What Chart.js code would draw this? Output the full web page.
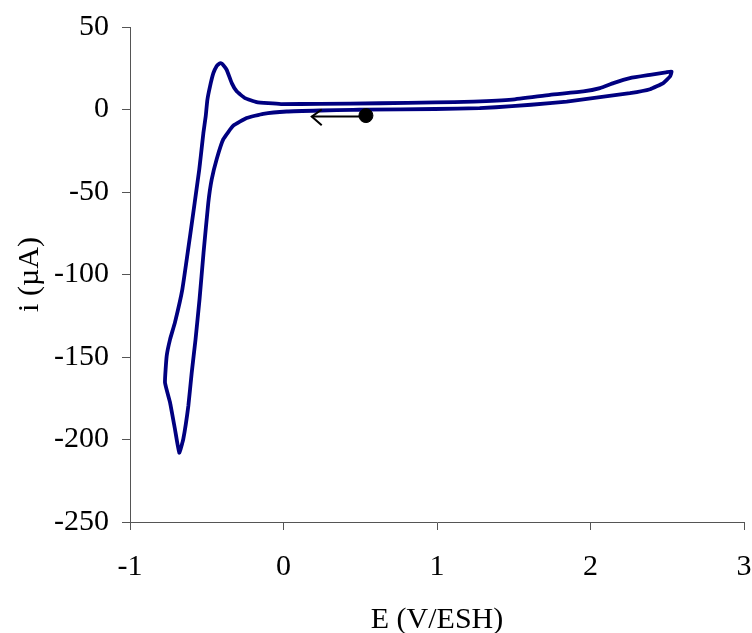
<!DOCTYPE html>
<html>
<head>
<meta charset="utf-8">
<script src="https://cdn.jsdelivr.net/npm/chart.js@4/dist/chart.umd.min.js"></script>
<style>
  html, body { margin: 0; padding: 0; background: #ffffff; }
  #wrap { width: 752px; height: 633px; position: relative; }
</style>
</head>
<body>
<div id="wrap"><canvas id="c" width="752" height="633"></canvas></div>
<script>
// Cyclic voltammogram: potential E (V/ESH) and current i (µA), in scan order
const potentialE = [
  0.537, 0.453, 0.238, 0.021, -0.132, -0.240, -0.327, -0.392, -0.435, -0.468, -0.490, -0.521,
  -0.547, -0.573, -0.598, -0.620, -0.653, -0.679, -0.707, -0.739, -0.772,
  -0.761, -0.739, -0.707, -0.659, -0.609, -0.549, -0.539, -0.522, -0.507, -0.496, -0.479,
  -0.457, -0.435, -0.418, -0.407, -0.393, -0.370, -0.337, -0.305, -0.251, -0.175, -0.099,
  -0.016, 0.238, 0.629, 0.987, 1.238, 1.489, 1.736, 1.953, 2.062, 2.149, 2.257, 2.388, 2.492, 2.529,
  2.518, 2.474, 2.388, 2.257, 2.062, 1.845, 1.736, 1.489, 1.278, 0.987, 0.537
];
const currentI = [
  -0.1, -0.2, -0.6, -1.2, -2.6, -5.2, -9.8, -18, -30, -42.5, -56.6, -86.9,
  -115, -139.3, -159.5, -179.7, -199.8, -208, -193.8, -177.6, -165.5,
  -149.4, -139.3, -129, -109, -76.8, -36.5, -28.4, -14.3, -4.3, 5.8, 13.9,
  22, 26.4, 27.8, 28, 27, 24, 16, 11, 6.9, 4.5, 3.8,
  3.3, 3.4, 3.8, 4.3, 4.8, 6, 8.9, 11, 13, 16, 19, 21, 22.5, 23,
  20, 16, 12.3, 9.9, 7.5, 4.8, 3.8, 2, 0.8, 0.3, -0.1
];
// Starting point marker and scan-direction arrow
const startE = [0.537];
const startI = [-3.7];
const arrowLineE = [0.537, 0.184];
const arrowLineI = [-4.2, -4.3];
const arrowHeadE = [0.249, 0.184, 0.249];
const arrowHeadI = [0.0, -4.3, -9.6];
// Axis ticks
const xTicks = [-1, 0, 1, 2, 3];
const yTicks = [-250, -200, -150, -100, -50, 0, 50];

const pts = (xs, ys) => xs.map((x, k) => ({ x: x, y: ys[k] }));
const FONT = "'Liberation Serif', 'Times New Roman', serif";
const AXIS = '#555555';

new Chart(document.getElementById('c'), {
  type: 'scatter',
  data: {
    datasets: [
      { data: pts(startE, startI), backgroundColor: '#000000', borderColor: '#000000',
        pointRadius: 7, showLine: false },
      { data: pts(arrowLineE, arrowLineI), borderColor: '#000000', borderWidth: 2,
        pointRadius: 0, showLine: true },
      { data: pts(arrowHeadE, arrowHeadI), borderColor: '#000000', borderWidth: 2,
        pointRadius: 0, showLine: true },
      { data: pts(potentialE, currentI), borderColor: '#000080', borderWidth: 3.8,
        pointRadius: 0, showLine: true, tension: 0.12, borderJoinStyle: 'round' }
    ]
  },
  options: {
    responsive: false,
    animation: false,
    events: [],
    layout: { padding: { left: 0, right: 8, top: 27, bottom: 0 } },
    plugins: { legend: { display: false }, tooltip: { enabled: false } },
    scales: {
      x: {
        type: 'linear', min: -1, max: 3,
        afterFit: (s) => { s.height = 111; s.paddingLeft = 0; s.paddingRight = 0; },
        afterBuildTicks: (s) => { s.ticks = xTicks.map(v => ({ value: v })); },
        grid: { drawOnChartArea: false, drawTicks: true, tickLength: 8, color: AXIS },
        border: { display: true, color: AXIS, width: 1 },
        ticks: { color: '#000000', font: { family: FONT, size: 30 }, padding: 19, maxRotation: 0 },
        title: { display: true, text: 'E (V/ESH)', color: '#000000',
                 font: { family: FONT, size: 30, lineHeight: 0.87 }, padding: { top: 0, bottom: 0 } }
      },
      y: {
        type: 'linear', min: -250, max: 50,
        afterFit: (s) => { s.width = 130; s.paddingTop = 0; s.paddingBottom = 0; },
        afterBuildTicks: (s) => { s.ticks = yTicks.map(v => ({ value: v })); },
        grid: { drawOnChartArea: false, drawTicks: true, tickLength: 8, color: AXIS },
        border: { display: true, color: AXIS, width: 1 },
        ticks: { color: '#000000', font: { family: FONT, size: 30 }, padding: 13 },
        title: { display: true, text: 'i (µA)', color: '#000000',
                 font: { family: FONT, size: 30, lineHeight: 1.0 }, padding: { top: 15, bottom: 0 } }
      }
    }
  }
});
</script>
</body>
</html>
